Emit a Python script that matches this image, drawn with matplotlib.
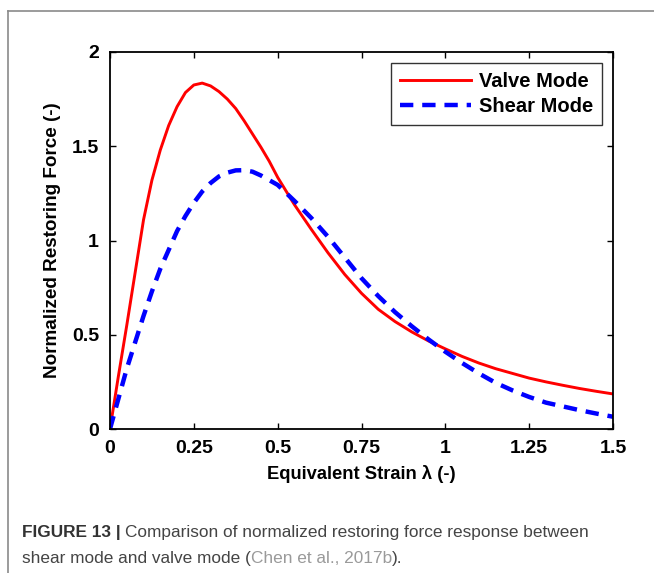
import numpy as np
import matplotlib
matplotlib.use("Agg")
import matplotlib.pyplot as plt
from matplotlib.lines import Line2D

# data
strain = [0, 0.025, 0.05, 0.075, 0.1, 0.125, 0.15, 0.175, 0.2, 0.225, 0.25, 0.275,
          0.3, 0.325, 0.35, 0.375, 0.4, 0.425, 0.45, 0.475, 0.5, 0.55, 0.6, 0.65,
          0.7, 0.75, 0.8, 0.85, 0.9, 0.95, 1.0, 1.05, 1.1, 1.15, 1.2, 1.25, 1.3,
          1.35, 1.4, 1.45, 1.5]
valve = [0, 0.28, 0.55, 0.83, 1.11, 1.32, 1.48, 1.61, 1.71, 1.785, 1.825, 1.835,
         1.82, 1.79, 1.75, 1.70, 1.635, 1.565, 1.495, 1.42, 1.335, 1.19, 1.06, 0.935,
         0.82, 0.72, 0.635, 0.57, 0.515, 0.467, 0.425, 0.385, 0.35, 0.32, 0.295, 0.27,
         0.25, 0.232, 0.215, 0.20, 0.186]
shear = [0, 0.16, 0.32, 0.46, 0.60, 0.73, 0.85, 0.95, 1.05, 1.13, 1.20, 1.26,
         1.305, 1.34, 1.36, 1.372, 1.373, 1.365, 1.345, 1.32, 1.295, 1.21, 1.12, 1.02,
         0.91, 0.80, 0.705, 0.62, 0.545, 0.475, 0.41, 0.35, 0.295, 0.245, 0.205, 0.17,
         0.14, 0.12, 0.10, 0.082, 0.065]
xticks = [0, 0.25, 0.5, 0.75, 1, 1.25, 1.5]
xtick_labels = ['0', '0.25', '0.5', '0.75', '1', '1.25', '1.5']
yticks = [0, 0.5, 1, 1.5, 2]
ytick_labels = ['0', '0.5', '1', '1.5', '2']

plt.rcParams['font.family'] = ['Liberation Sans', 'DejaVu Sans']

W, H = 654, 573
fig = plt.figure(figsize=(W / 100, H / 100), dpi=100)
ax = fig.add_axes([110 / W, 1 - 429 / H, 503 / W, 377 / H])

ax.plot(strain, valve, color='#ff0000', lw=2.1, label='Valve Mode')
ax.plot(strain, shear, color='#0000ff', lw=3.2, dashes=(3, 2), label='Shear Mode')

ax.set_xlim(0, 1.5)
ax.set_ylim(0, 2)
ax.set_xticks(xticks)
ax.set_xticklabels(xtick_labels)
ax.set_yticks(yticks)
ax.set_yticklabels(ytick_labels)
ax.tick_params(direction='in', length=4, width=1, top=True, right=True,
               labelsize=14, pad=8)
for lab in ax.get_xticklabels() + ax.get_yticklabels():
    lab.set_fontweight('bold')
for sp in ax.spines.values():
    sp.set_linewidth(1.3)

ax.set_xlabel('Equivalent Strain λ (-)', fontsize=13.2, fontweight='bold', labelpad=6)
ax.set_ylabel('Normalized Restoring Force (-)', fontsize=13.6, fontweight='bold', labelpad=8)

leg = ax.legend(loc='upper right', fontsize=14.5, frameon=True, fancybox=False,
                edgecolor='black', handlelength=3.5, borderpad=0.45,
                labelspacing=0.3, handletextpad=0.4, borderaxespad=0.55)
leg.get_frame().set_linewidth(1.0)
for t in leg.get_texts():
    t.set_fontweight('bold')

# gray frame around the panel
fig.add_artist(Line2D([7.5 / W, 7.5 / W], [0, 1 - 11 / H], color='#8a8a8a', lw=1.2))
fig.add_artist(Line2D([7.5 / W, 1], [1 - 11 / H, 1 - 11 / H], color='#8a8a8a', lw=1.2))

# caption, drawn piece by piece
renderer = fig.canvas.get_renderer()
cap_size = 12.4


def put_pieces(pieces, x0, y):
    x = x0
    for txt, weight, color in pieces:
        t = fig.text(x / W, 1 - y / H, txt, fontsize=cap_size, fontweight=weight,
                     color=color, va='baseline', ha='left')
        x = t.get_window_extent(renderer).x1


put_pieces([('FIGURE 13 | ', 'bold', '#333333'),
            ('Comparison of normalized restoring force response between', 'normal', '#444444')],
           22, 537)
put_pieces([('shear mode and valve mode (', 'normal', '#444444'),
            ('Chen et al., 2017b', 'normal', '#9a9a9a'),
            (').', 'normal', '#444444')],
           22, 563)

fig.savefig('out.png', dpi=100)
